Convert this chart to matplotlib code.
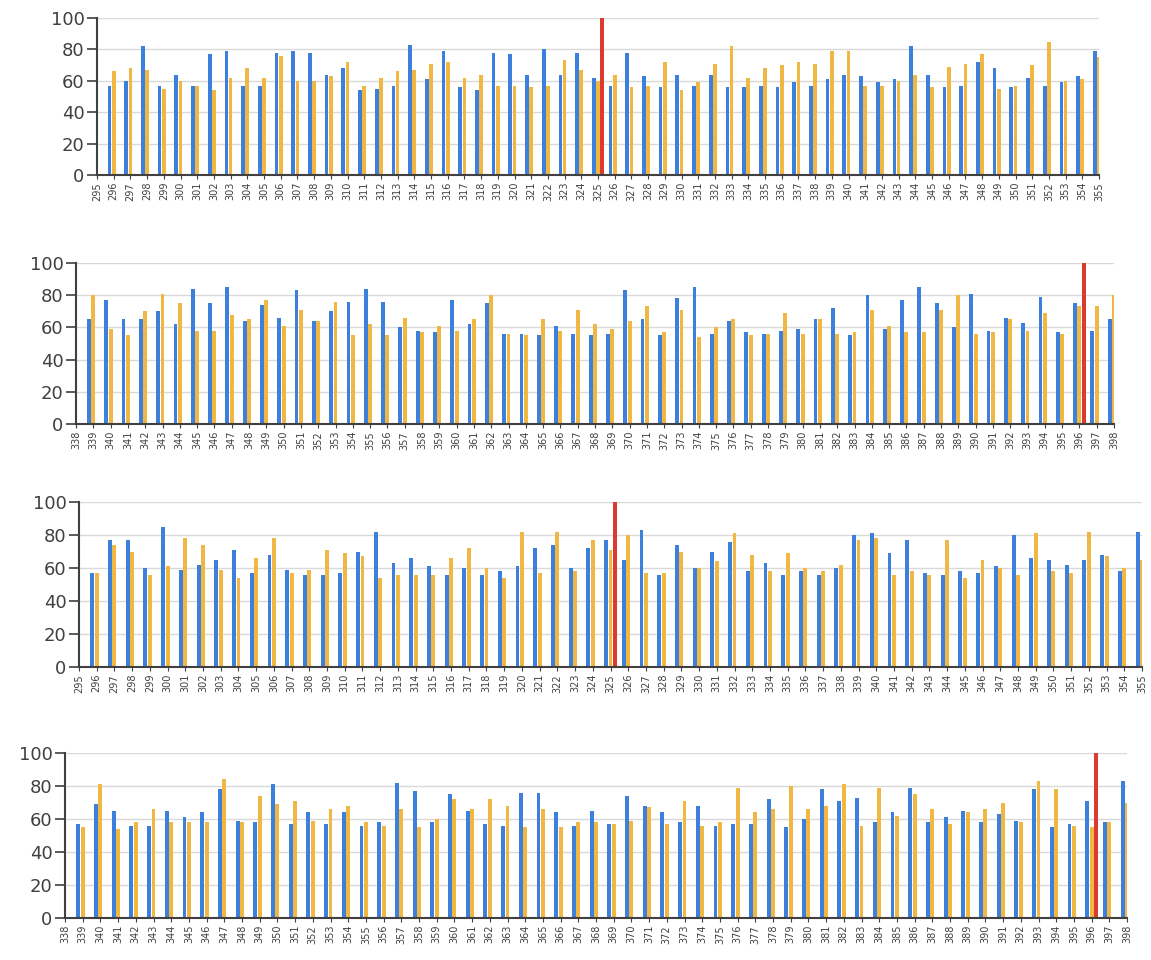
import matplotlib.pyplot as plt
import numpy as np

# panel 1 / 3 categories 295..355, panel 2 / 4 categories 338..398
cats_a = list(range(295, 356))
cats_b = list(range(338, 399))

# values start at the second category (first one is empty)
blue1 = [57, 60, 82, 57, 64, 57, 77, 79, 57, 57,
         78, 79, 78, 64, 68, 54, 55, 57, 83, 61,
         79, 56, 54, 78, 77, 64, 80, 64, 78, 62,
         57, 78, 63, 56, 64, 57, 64, 56, 56, 57,
         56, 59, 57, 61, 64, 63, 59, 61, 82, 64,
         56, 57, 72, 68, 56, 62, 57, 59, 63, 79]
gold1 = [66, 68, 67, 55, 60, 57, 54, 62, 68, 62,
         76, 60, 60, 63, 72, 57, 62, 66, 67, 71,
         72, 62, 64, 57, 57, 56, 57, 73, 67, 60,
         64, 56, 57, 72, 54, 59, 71, 82, 62, 68,
         70, 72, 71, 79, 79, 57, 57, 60, 64, 56,
         69, 71, 77, 55, 57, 70, 85, 60, 61, 75]

blue2 = [65, 77, 65, 65, 70, 62, 84, 75, 85, 64,
         74, 66, 83, 64, 70, 76, 84, 76, 60, 58,
         57, 77, 62, 75, 56, 56, 55, 61, 56, 55,
         56, 83, 65, 55, 78, 85, 56, 64, 57, 56,
         58, 59, 65, 72, 55, 80, 59, 77, 85, 75,
         60, 81, 58, 66, 63, 79, 57, 75, 58, 65]
gold2 = [80, 59, 55, 70, 81, 75, 58, 58, 68, 65,
         77, 61, 71, 64, 76, 55, 62, 55, 66, 57,
         61, 58, 65, 80, 56, 55, 65, 58, 71, 62,
         59, 64, 73, 57, 71, 54, 60, 65, 55, 56,
         69, 56, 65, 56, 57, 71, 61, 57, 57, 71,
         80, 56, 57, 65, 58, 69, 56, 73, 73, 80]

blue3 = [57, 77, 77, 60, 85, 59, 62, 65, 71, 57,
         68, 59, 56, 56, 57, 70, 82, 63, 66, 61,
         56, 60, 56, 58, 61, 72, 74, 60, 72, 77,
         65, 83, 56, 74, 60, 70, 76, 58, 63, 56,
         58, 56, 60, 80, 81, 69, 77, 57, 56, 58,
         57, 61, 80, 66, 65, 62, 65, 68, 58, 82]
gold3 = [57, 74, 70, 56, 61, 78, 74, 59, 54, 66,
         78, 57, 59, 71, 69, 67, 54, 56, 56, 56,
         66, 72, 60, 54, 82, 57, 82, 58, 77, 71,
         80, 57, 57, 70, 60, 64, 81, 68, 58, 69,
         60, 58, 62, 77, 78, 56, 58, 56, 77, 54,
         65, 60, 56, 81, 58, 57, 82, 67, 60, 65]

blue4 = [57, 69, 65, 56, 56, 65, 61, 64, 78, 59,
         58, 81, 57, 64, 57, 64, 56, 58, 82, 77,
         58, 75, 65, 57, 56, 76, 76, 64, 56, 65,
         57, 74, 68, 64, 58, 68, 56, 57, 57, 72,
         55, 60, 78, 71, 73, 58, 64, 79, 58, 61,
         65, 58, 63, 59, 78, 55, 57, 71, 58, 83]
gold4 = [55, 81, 54, 58, 66, 58, 58, 58, 84, 58,
         74, 69, 71, 59, 66, 68, 58, 56, 66, 55,
         60, 72, 66, 72, 68, 55, 66, 55, 58, 58,
         57, 59, 67, 57, 71, 56, 58, 79, 64, 66,
         80, 66, 68, 81, 56, 79, 62, 75, 66, 57,
         64, 66, 70, 58, 83, 78, 56, 55, 58, 70]

# red marker: (category, value)
red1 = (325, 100)
red2 = (396, 100)
red3 = (325, 100)
red4 = (396, 100)

BLUE = '#3d7fdc'
GOLD = '#f0b843'
RED = '#dc3a2e'
TXT = '#404040'

W, H = 1151, 960
fig = plt.figure(figsize=(W / 100, H / 100), dpi=100)

# pixel boxes: left, right, y of 100, y of 0
boxes = [(97, 1099, 18, 175), (76, 1114, 263, 424),
         (79, 1142, 502, 667), (65, 1127, 753, 918)]
panels = [(cats_a, blue1, gold1, red1), (cats_b, blue2, gold2, red2),
          (cats_a, blue3, gold3, red3), (cats_b, blue4, gold4, red4)]

bw = 0.22
off = 0.25
for (l, r, yt, yb), (cats, blue, gold, red) in zip(boxes, panels):
    ax = fig.add_axes([l / W, 1 - yb / H, (r - l) / W, (yb - yt) / H])
    x = np.arange(1, len(blue) + 1)
    ax.bar(x - off, blue, width=bw, color=BLUE, zorder=3)
    ax.bar(x, gold, width=bw, color=GOLD, zorder=3)
    ax.bar(cats.index(red[0]) + off, red[1], width=bw, color=RED, zorder=4)

    ax.set_xlim(0, len(cats) - 1)
    ax.set_ylim(0, 100)
    ax.set_yticks(range(0, 101, 20))
    ax.set_xticks(range(len(cats)))
    ax.set_xticklabels([str(c) for c in cats], rotation=90, fontsize=7,
                       color=TXT)
    ax.tick_params(axis='y', labelsize=13, colors=TXT, length=7, width=1.2,
                   direction='out', pad=2)
    ax.tick_params(axis='x', length=3, width=0.8, colors=TXT, pad=2)
    ax.yaxis.grid(True, color='#d9d9d9', lw=1, zorder=0)
    ax.set_axisbelow(True)
    for s in ['top', 'right']:
        ax.spines[s].set_visible(False)
    for s in ['left', 'bottom']:
        ax.spines[s].set_color(TXT)
        ax.spines[s].set_linewidth(1.5)
        ax.spines[s].set_zorder(5)

fig.savefig('out.png', dpi=100)
